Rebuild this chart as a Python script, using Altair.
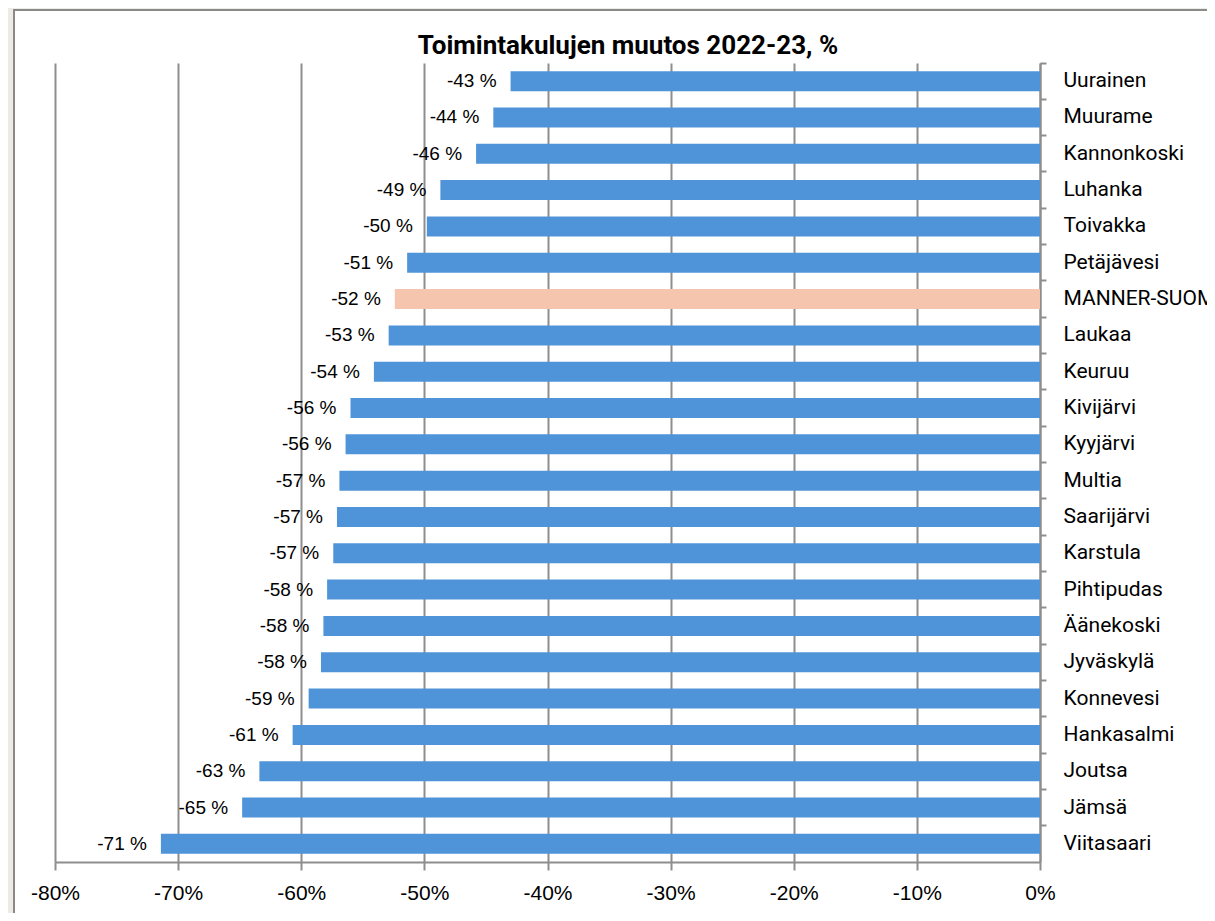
import altair as alt
import pandas as pd

# ---- data ----
categories = [
    "Uurainen", "Muurame", "Kannonkoski", "Luhanka", "Toivakka", "Petäjävesi",
    "MANNER-SUOMI", "Laukaa", "Keuruu", "Kivijärvi", "Kyyjärvi", "Multia",
    "Saarijärvi", "Karstula", "Pihtipudas", "Äänekoski", "Jyväskylä",
    "Konnevesi", "Hankasalmi", "Joutsa", "Jämsä", "Viitasaari",
]
values = [
    -43.0, -44.4, -45.8, -48.7, -49.8, -51.4,
    -52.4, -52.9, -54.1, -56.0, -56.4, -56.9,
    -57.1, -57.4, -57.9, -58.2, -58.4,
    -59.4, -60.7, -63.4, -64.8, -71.4,
]
highlight = "MANNER-SUOMI"
x_ticks = [-80, -70, -60, -50, -40, -30, -20, -10, 0]
title_text = "Toimintakulujen muutos 2022-23, %"

df = pd.DataFrame({"kunta": categories, "muutos": values})
df["label"] = [f"{v:.0f} %" for v in values]
df["ryhma"] = ["Manner" if c == highlight else "Kunta" for c in categories]

W, H = 985, 799
PAD = {"left": 47, "top": 55, "right": 167, "bottom": 51}
GRAY = "#8E8E8E"

x_enc = alt.X(
    "muutos:Q",
    scale=alt.Scale(domain=[-80, 0], nice=False),
    axis=alt.Axis(
        values=x_ticks, title=None, labelExpr="datum.value + '%'",
        labelFlush=False, labelOverlap=False,
        grid=True, gridColor=GRAY, gridWidth=2,
        domainColor=GRAY, domainWidth=2, tickColor=GRAY, tickWidth=2, tickSize=8,
        labelFont="Liberation Sans", labelFontSize=21, labelColor="black",
        labelPadding=12,
    ),
)
y_enc = alt.Y(
    "kunta:N", sort=categories,
    scale=alt.Scale(paddingInner=0, paddingOuter=0),
    axis=alt.Axis(
        orient="right", title=None, grid=False, bandPosition=0,
        domainColor=GRAY, domainWidth=2, tickColor=GRAY, tickWidth=2, tickSize=6,
        labelFont="Roboto", labelFontSize=21, labelColor="black",
        labelPadding=17, labelLimit=0,
    ),
)

bars = alt.Chart(df).mark_bar(size=20).encode(
    x=x_enc,
    y=y_enc,
    color=alt.Color("ryhma:N", scale=alt.Scale(domain=["Kunta", "Manner"],
                                                range=["#4F94D9", "#F5C6AD"]), legend=None),
)

labels = alt.Chart(df).mark_text(
    align="right", baseline="middle", dx=-14,
    font="Liberation Sans", fontSize=19, color="black",
).encode(x="muutos:Q", y=alt.Y("kunta:N", sort=categories), text="label:N")

one = pd.DataFrame({"t": [title_text]})
strip = alt.Chart(one).mark_rect(color="#EEEBE6").encode(
    x=alt.value(-47), x2=alt.value(-42), y=alt.value(-55), y2=alt.value(850))
top_strip = alt.Chart(one).mark_rect(color="#EEEBE6").encode(
    x=alt.value(-47), x2=alt.value(1152), y=alt.value(-55), y2=alt.value(-54))
left_border = alt.Chart(one).mark_rule(color="#8A8A8A", strokeWidth=2).encode(
    x=alt.value(-41), y=alt.value(-54), y2=alt.value(850))
top_border = alt.Chart(one).mark_rule(color="#8A8A8A", strokeWidth=2).encode(
    x=alt.value(-42), x2=alt.value(1152), y=alt.value(-53))

title = alt.Chart(one).mark_text(
    align="center", baseline="alphabetic", font="Roboto", fontWeight="bold",
    fontSize=26, color="black",
).encode(text="t:N", x=alt.value(573), y=alt.value(-9))

chart = alt.layer(strip, top_strip, left_border, top_border, bars, labels, title).properties(
    width=W, height=H, padding=PAD,
    autosize=alt.AutoSizeParams(type="none"), background="white",
).configure_view(stroke=None)

chart.save("out.html", embed_options={"renderer": "svg", "actions": False})
